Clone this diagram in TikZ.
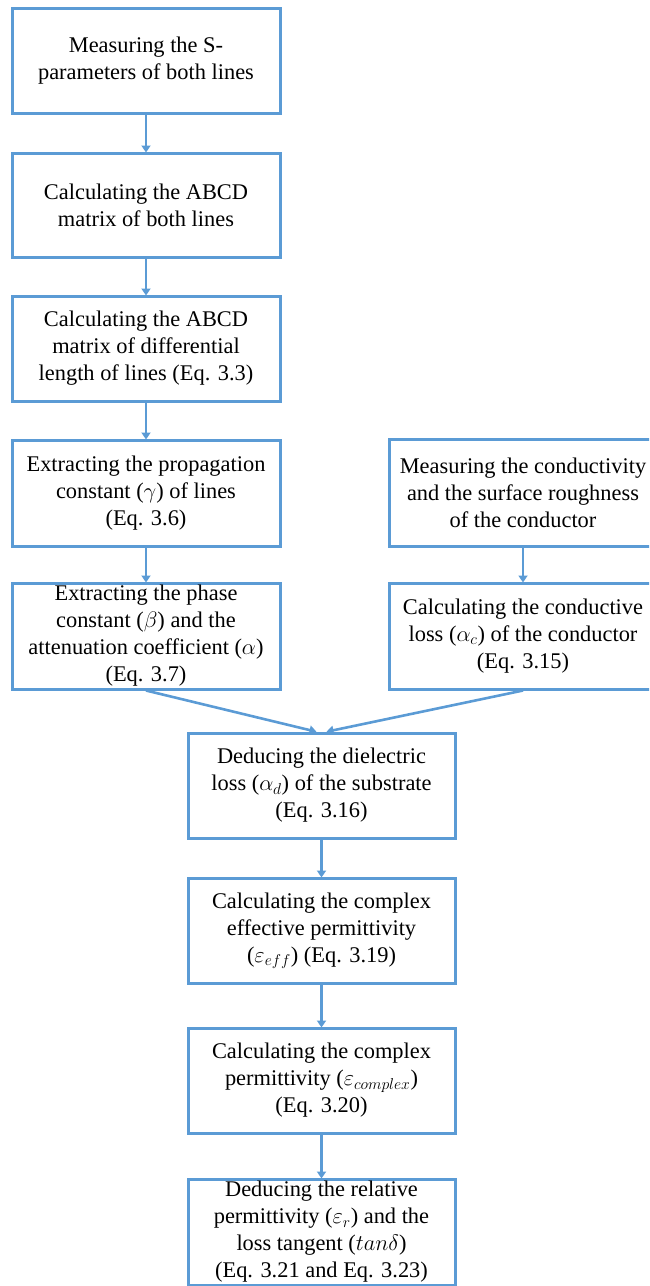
\RequirePackage{fix-cm}
\documentclass[tikz,border=0pt]{standalone}
\usepackage{fontspec}
\setmainfont{Liberation Serif}
\usetikzlibrary{arrows.meta}
\definecolor{flowblue}{HTML}{5B9BD5}
\tikzset{
  stepbox/.style={draw=flowblue, line width=3pt, rectangle, align=center,
    minimum width=268pt, inner sep=0pt, text=black,
    font=\fontsize{22.4}{27}\selectfont},
  flowarrow/.style={draw=flowblue, line width=2.6pt,
    -{Triangle[width=9pt,length=7pt]}, shorten >=-1pt}
}
\begin{document}
\begin{tikzpicture}[x=1pt,y=-1pt]
\useasboundingbox (0,0) rectangle (649,1286);
\clip (0,0) rectangle (649,1286);
\node[stepbox, minimum height=105pt] (b1) at (146,60.5) {Measuring the S-\\parameters of both lines};
\node[stepbox, minimum height=104pt] (b2) at (146,205) {Calculating the ABCD\\matrix of both lines};
\node[stepbox, minimum height=105pt] (b3) at (146,348.5) {Calculating the ABCD\\matrix of differential\\length of lines (Eq. 3.3)};
\node[stepbox, minimum height=106pt] (b4) at (146,493) {Extracting the propagation\\constant ($\gamma$) of lines\\(Eq. 3.6)};
\node[stepbox, minimum height=106pt] (b5) at (146,636) {Extracting the phase\\constant ($\beta$) and the\\attenuation coefficient ($\alpha$)\\(Eq. 3.7)};
\node[stepbox, minimum height=107pt] (r1) at (523,492.5) {Measuring the conductivity\\and the surface roughness\\of the conductor};
\node[stepbox, minimum height=106pt] (r2) at (523,636) {Calculating the conductive\\loss ($\alpha_c$) of the conductor\\(Eq. 3.15)};
\node[stepbox, minimum width=267pt, minimum height=105pt] (b6) at (321.5,785.5) {Deducing the dielectric\\loss ($\alpha_d$) of the substrate\\(Eq. 3.16)};
\node[stepbox, minimum width=267pt, minimum height=105pt] (b7) at (321.5,930.5) {Calculating the complex\\effective permittivity\\($\varepsilon_{eff}$) (Eq. 3.19)};
\node[stepbox, minimum width=267pt, minimum height=105pt] (b8) at (321.5,1080.5) {Calculating the complex\\permittivity ($\varepsilon_{complex}$)\\(Eq. 3.20)};
\node[stepbox, minimum width=267pt, minimum height=106pt] (b9) at (321.5,1232) {Deducing the relative\\permittivity ($\varepsilon_r$) and the\\loss tangent ($tan\delta$)\\(Eq. 3.21 and Eq. 3.23)};
\coordinate (m6l) at ([xshift=-6pt]b6.north);
\coordinate (m6r) at ([xshift=6pt]b6.north);
\draw[flowarrow] (b1.south) -- (b2.north);
\draw[flowarrow] (b2.south) -- (b3.north);
\draw[flowarrow] (b3.south) -- (b4.north);
\draw[flowarrow] (b4.south) -- (b5.north);
\draw[flowarrow] (r1.south) -- (r2.north);
\draw[flowarrow] (b5.south) -- (m6l);
\draw[flowarrow] (r2.south) -- (m6r);
\draw[flowarrow] (b6.south) -- (b7.north);
\draw[flowarrow] (b7.south) -- (b8.north);
\draw[flowarrow] (b8.south) -- (b9.north);
\end{tikzpicture}
\end{document}
